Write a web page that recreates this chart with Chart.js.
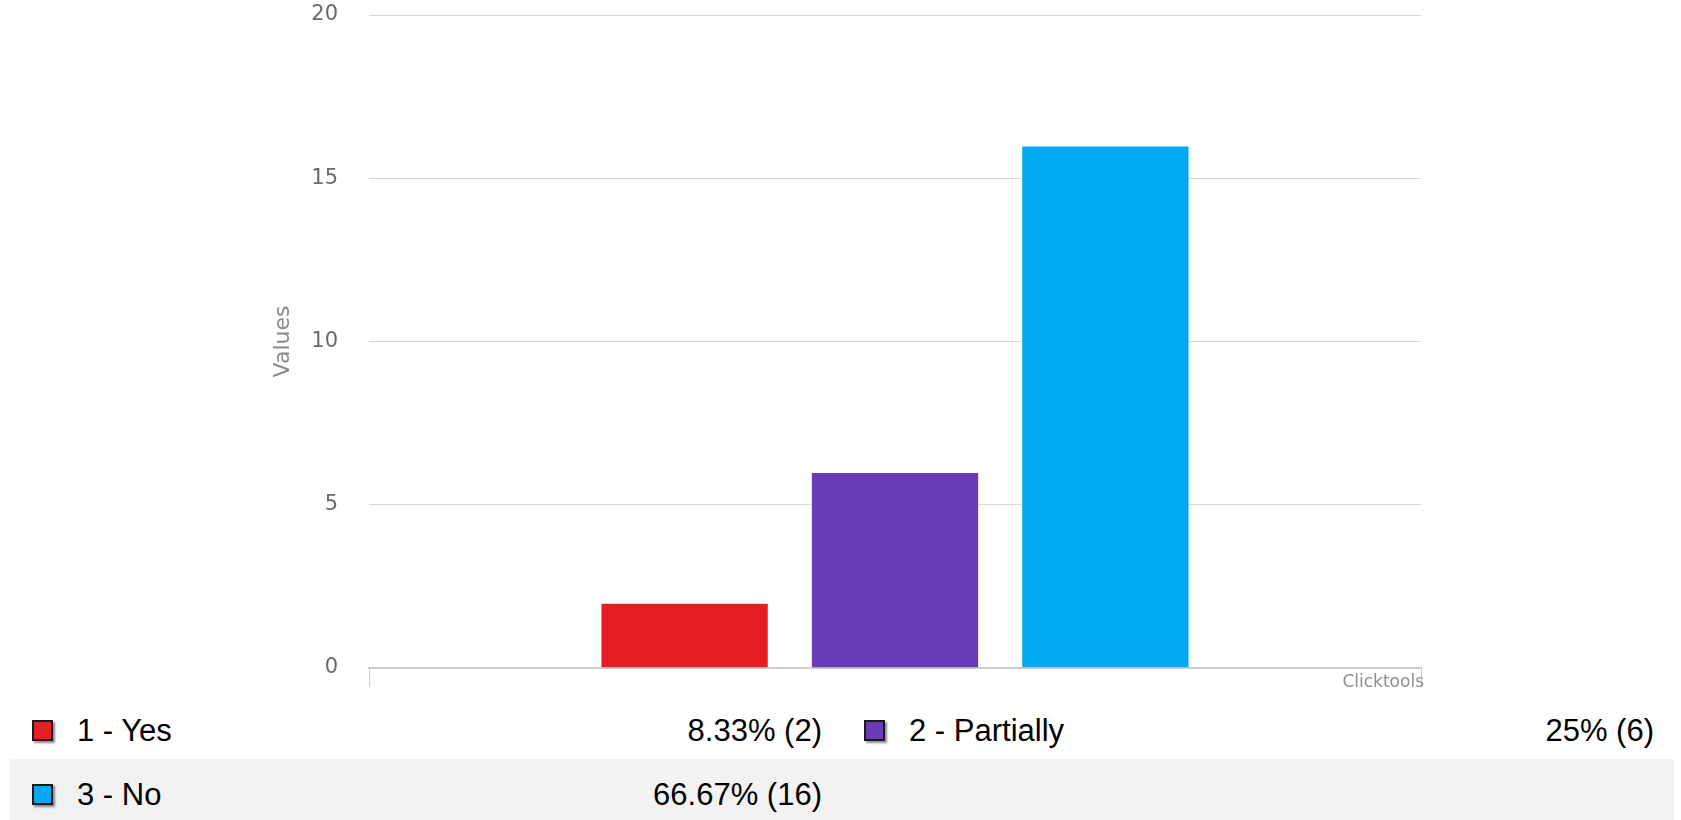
<!DOCTYPE html>
<html>
<head>
<meta charset="utf-8">
<script src="https://cdn.jsdelivr.net/npm/chart.js@4.4.1/dist/chart.umd.min.js"></script>
<style>
    html, body {
        margin: 0;
        padding: 0;
        background: #ffffff;
        width: 1681px;
        height: 820px;
        overflow: hidden;
    }
    #chart-box {
        position: absolute;
        left: 0;
        top: 0;
        width: 1681px;
        height: 691px;
    }
    #credits {
        position: absolute;
        right: 257px;
        top: 671px;
        font-family: "DejaVu Sans", sans-serif;
        font-size: 17px;
        line-height: 20px;
        color: #909090;
    }
    #legend {
        position: absolute;
        left: 10px;
        top: 697px;
        width: 1664px;
        font-family: "Liberation Sans", Arial, sans-serif;
        font-size: 31px;
        color: #000000;
    }
    .row {
        display: flex;
        height: 62px;
        box-sizing: border-box;
        padding-top: 5px;
    }
    .row.alt {
        background: #f2f2f2;
        height: 63px;
        padding-top: 8px;
    }
    .cell {
        width: 832px;
        display: flex;
        align-items: center;
        box-sizing: border-box;
        padding-right: 20px;
    }
    .swatch {
        width: 17px;
        height: 17px;
        border: 2px solid #1a1a1a;
        margin-left: 22px;
        box-shadow: 2px 2px 2px rgba(0, 0, 0, 0.45);
        flex: none;
    }
    .name {
        margin-left: 24px;
        flex: 1;
    }
    .pct {
        text-align: right;
    }
</style>
</head>
<body>
<div id="chart-box"><canvas id="chart"></canvas></div>
<div id="credits">Clicktools</div>
<div id="legend"></div>

<script>
const answers = ["1 - Yes", "2 - Partially", "3 - No"];
const counts = [2, 6, 16];
const colors = ["#e51d25", "#6a3cb7", "#04a9f4"];
const yMin = 0;
const yMax = 20;
const yStep = 5;

const total = counts.reduce((a, b) => a + b, 0);

function percentText(n) {
    return parseFloat((n / total * 100).toFixed(2)) + "% (" + n + ")";
}

// one category, one dataset per answer
const datasets = answers.map((name, i) => ({
    label: name,
    data: [counts[i]],
    backgroundColor: colors[i],
    borderColor: "rgba(255,255,255,0.6)",
    borderWidth: 1,
    categoryPercentage: 0.6,
    barPercentage: 0.8
}));

const ctx = document.getElementById("chart").getContext("2d");

new Chart(ctx, {
    type: "bar",
    data: {
        labels: [""],
        datasets: datasets
    },
    options: {
        responsive: true,
        maintainAspectRatio: false,
        animation: false,
        layout: {
            padding: { left: 266, right: 260, top: 15, bottom: 4 }
        },
        plugins: {
            legend: { display: false },
            tooltip: { enabled: false }
        },
        scales: {
            x: {
                ticks: { display: false },
                grid: {
                    offset: true,
                    drawOnChartArea: false,
                    drawTicks: true,
                    tickLength: 19,
                    color: "#c0d0e0",
                    lineWidth: 1
                },
                border: { display: true, color: "#cccccc", width: 2 }
            },
            y: {
                min: yMin,
                max: yMax,
                ticks: {
                    stepSize: yStep,
                    padding: 31,
                    color: "#6a6a6a",
                    font: { family: "DejaVu Sans", size: 21 }
                },
                grid: {
                    drawTicks: false,
                    color: "#d8d8d8",
                    lineWidth: 1
                },
                border: { display: false },
                title: {
                    display: true,
                    text: "Values",
                    color: "#8a8a8a",
                    padding: { top: 4, bottom: 15 },
                    font: { family: "DejaVu Sans", size: 22, weight: "normal" }
                },
                // fixed axis width; keep the label padding out of the top/bottom space
                afterFit: function (scale) {
                    scale.width = 103;
                    scale.paddingTop = 12;
                    scale.paddingBottom = 12;
                }
            }
        }
    }
});

// legend table, two answers per row
const legend = document.getElementById("legend");
let row = null;
answers.forEach((name, i) => {
    if (i % 2 === 0) {
        row = document.createElement("div");
        row.className = "row" + ((i / 2) % 2 === 1 ? " alt" : "");
        legend.appendChild(row);
    }
    const cell = document.createElement("div");
    cell.className = "cell";

    const swatch = document.createElement("div");
    swatch.className = "swatch";
    swatch.style.background = colors[i];

    const label = document.createElement("div");
    label.className = "name";
    label.innerText = name;

    const pct = document.createElement("div");
    pct.className = "pct";
    pct.innerText = percentText(counts[i]);

    cell.appendChild(swatch);
    cell.appendChild(label);
    cell.appendChild(pct);
    row.appendChild(cell);
});
</script>
</body>
</html>
